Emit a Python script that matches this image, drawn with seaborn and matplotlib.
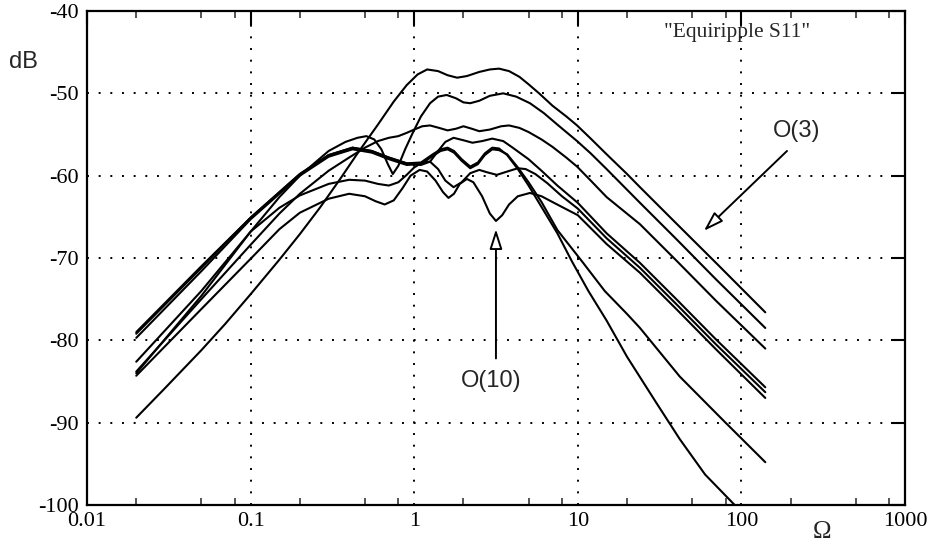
import numpy as np
import pandas as pd
import matplotlib
matplotlib.use("Agg")
import matplotlib.pyplot as plt
import seaborn as sns
from matplotlib.ticker import FixedLocator, FixedFormatter, NullFormatter

# ---- data (frequency Omega, dB) ----
curve_A_x = [0.02, 0.03, 0.05, 0.07, 0.1, 0.15, 0.2, 0.265, 0.35, 0.45, 0.6, 0.75, 0.9, 1.05, 1.2, 1.4, 1.6, 1.83, 2.1, 2.5, 2.9, 3.3, 3.8, 4.4, 5.0, 5.8, 7.0, 8.5, 9.9, 12, 15, 20, 24, 40, 70, 140]
curve_A_y = [-89.4, -85.8, -81.2, -78.0, -74.4, -70.2, -67.1, -63.9, -60.5, -57.3, -53.8, -51.0, -49.0, -47.7, -47.1, -47.3, -47.8, -48.1, -47.9, -47.4, -47.1, -47.0, -47.3, -48.0, -48.9, -50.0, -51.5, -52.8, -53.9, -55.5, -57.4, -59.8, -61.4, -65.8, -70.6, -76.6]

curve_B_x = [0.02, 0.05, 0.1, 0.15, 0.2, 0.3, 0.38, 0.45, 0.51, 0.57, 0.63, 0.69, 0.74, 0.8, 0.88, 0.98, 1.1, 1.25, 1.4, 1.58, 1.8, 2.0, 2.2, 2.5, 2.9, 3.5, 4.2, 5.1, 6.2, 7.5, 9.9, 12, 15, 24, 40, 70, 140]
curve_B_y = [-82.6, -74.0, -66.8, -62.6, -60.0, -57.0, -55.9, -55.4, -55.2, -55.6, -56.8, -58.6, -59.8, -58.8, -56.8, -54.8, -52.8, -51.2, -50.4, -50.2, -50.6, -51.1, -51.2, -50.9, -50.3, -50.0, -50.4, -51.2, -52.4, -53.8, -55.8, -57.3, -59.2, -63.3, -67.7, -72.6, -78.5]

curve_C_x = [0.02, 0.05, 0.1, 0.15, 0.2, 0.3, 0.4, 0.5, 0.6, 0.7, 0.8, 0.9, 1.0, 1.12, 1.25, 1.42, 1.6, 1.8, 2.0, 2.25, 2.5, 2.9, 3.4, 3.8, 4.4, 5.0, 6.0, 7.0, 8.5, 9.9, 12, 15, 24, 40, 70, 140]
curve_C_y = [-83.8, -75.0, -68.4, -64.6, -62.2, -59.4, -57.8, -56.6, -55.8, -55.4, -55.2, -54.8, -54.4, -54.0, -53.9, -54.2, -54.5, -54.3, -54.0, -54.3, -54.6, -54.4, -54.0, -53.9, -54.2, -54.7, -55.6, -56.5, -57.8, -58.9, -60.6, -62.6, -65.9, -70.3, -75.2, -81.0]

curve_D_x = [0.02, 0.05, 0.1, 0.2, 0.3, 0.42, 0.55, 0.7, 0.9, 1.1, 1.25, 1.4, 1.55, 1.74, 2.0, 2.27, 2.6, 3.0, 3.5, 4.0, 5.0, 6.0, 7.5, 10, 15, 24, 40, 70, 140]
curve_D_y = [-79.0, -71.0, -65.1, -59.8, -57.5, -56.6, -57.0, -57.8, -58.5, -58.7, -58.3, -57.0, -55.9, -55.4, -55.7, -56.0, -55.8, -55.5, -55.8, -56.6, -58.0, -59.4, -61.2, -63.3, -67.0, -70.6, -75.0, -79.9, -85.7]

curve_E1_x = [0.02, 0.05, 0.1, 0.2, 0.3, 0.42, 0.55, 0.7, 0.9, 1.1, 1.3, 1.45, 1.6, 1.75, 1.95, 2.2, 2.45, 2.7, 3.0, 3.3, 3.7, 4.3, 5.0, 6.0, 7.5, 9.2, 11.6, 15, 20, 30, 42, 60, 91, 140]
curve_E1_y = [-79.2, -71.2, -65.1, -59.8, -57.5, -56.6, -57.0, -57.8, -58.5, -58.4, -57.4, -56.8, -56.6, -57.0, -58.0, -58.9, -58.4, -57.3, -56.6, -56.7, -57.5, -59.2, -61.2, -63.8, -67.0, -70.4, -74.0, -77.6, -82.0, -87.5, -92.0, -96.3, -100.0, -104.5]

curve_E2_x = [0.02, 0.05, 0.1, 0.2, 0.3, 0.42, 0.55, 0.7, 0.9, 1.1, 1.3, 1.45, 1.6, 1.75, 1.95, 2.2, 2.45, 2.7, 3.0, 3.3, 3.7, 4.3, 5.0, 6.0, 7.5, 10.6, 14.6, 20, 24, 42, 80, 140]
curve_E2_y = [-79.7, -71.6, -65.3, -60.0, -57.7, -56.8, -57.2, -58.0, -58.7, -58.6, -57.6, -57.0, -56.8, -57.2, -58.2, -59.1, -58.6, -57.5, -56.8, -56.9, -57.4, -59.0, -60.8, -63.2, -66.6, -70.4, -74.0, -76.8, -78.5, -84.4, -90.0, -94.8]

curve_F_x = [0.02, 0.05, 0.1, 0.15, 0.2, 0.3, 0.4, 0.5, 0.6, 0.7, 0.8, 0.9, 1.0, 1.12, 1.25, 1.4, 1.55, 1.74, 1.95, 2.2, 2.5, 2.8, 3.2, 3.7, 4.3, 4.8, 5.5, 6.5, 8.0, 10, 15, 24, 40, 70, 140]
curve_F_y = [-84.0, -74.6, -66.8, -63.9, -62.4, -61.0, -60.5, -60.6, -61.0, -61.2, -60.8, -59.9, -59.0, -58.4, -58.3, -59.2, -60.6, -61.4, -60.8, -59.7, -59.3, -59.6, -59.9, -59.5, -59.1, -59.2, -59.8, -60.9, -62.5, -64.0, -67.6, -71.2, -75.6, -80.5, -86.3]

curve_G_x = [0.02, 0.05, 0.1, 0.15, 0.2, 0.3, 0.4, 0.5, 0.58, 0.66, 0.75, 0.85, 0.95, 1.08, 1.2, 1.35, 1.5, 1.62, 1.75, 1.9, 2.1, 2.3, 2.6, 2.9, 3.16, 3.45, 3.8, 4.3, 5.1, 6.0, 7.0, 8.0, 10, 15, 24, 40, 70, 140]
curve_G_y = [-84.3, -76.2, -70.1, -66.5, -64.5, -62.8, -62.2, -62.5, -63.1, -63.5, -63.0, -61.5, -60.0, -59.3, -59.5, -60.6, -62.0, -62.7, -62.2, -61.0, -60.4, -60.8, -62.5, -64.6, -65.5, -64.8, -63.5, -62.5, -62.1, -62.5, -63.2, -63.8, -64.8, -68.3, -71.8, -76.2, -81.1, -87.0]

x_ticks = [0.01, 0.1, 1, 10, 100, 1000]
x_tick_labels = ["0.01", "0.1", "1", "10", "100", "1000"]
y_ticks = [-100, -90, -80, -70, -60, -50, -40]
y_tick_labels = ["-100", "-90", "-80", "-70", "-60", "-50", "-40"]

curves = {
    "A": (curve_A_x, curve_A_y), "B": (curve_B_x, curve_B_y),
    "C": (curve_C_x, curve_C_y), "D": (curve_D_x, curve_D_y),
    "E1": (curve_E1_x, curve_E1_y), "E2": (curve_E2_x, curve_E2_y),
    "F": (curve_F_x, curve_F_y), "G": (curve_G_x, curve_G_y),
}
frames = []
for name, (xs, ys) in curves.items():
    frames.append(pd.DataFrame({"omega": xs, "dB": ys, "curve": name}))
df = pd.concat(frames, ignore_index=True)

sns.set_theme(style="white")
plt.rcParams["font.family"] = ["Liberation Serif", "DejaVu Serif"]

fig = plt.figure(figsize=(9.32, 5.46), dpi=100)
ax = fig.add_axes([87/932, 1-505/546, (905-87)/932, (505-11)/546])

sns.lineplot(data=df, x="omega", y="dB", hue="curve", units="curve", estimator=None,
             palette={k: "black" for k in curves}, legend=False, linewidth=1.5, ax=ax)

ax.set_xscale("log")
ax.set_xlim(0.01, 1000)
ax.set_ylim(-100, -40)
ax.set_xlabel("")
ax.set_ylabel("")

ax.xaxis.set_major_locator(FixedLocator(x_ticks))
ax.xaxis.set_major_formatter(FixedFormatter(x_tick_labels))
minor = [m * 10.0**e for e in range(-2, 3) for m in (2, 5, 8)]
ax.xaxis.set_minor_locator(FixedLocator(minor))
ax.xaxis.set_minor_formatter(NullFormatter())
ax.yaxis.set_major_locator(FixedLocator(y_ticks))
ax.yaxis.set_major_formatter(FixedFormatter(y_tick_labels))

ax.tick_params(axis="both", which="major", direction="in", length=10, width=1.5,
               top=True, right=True, labelsize=16, colors="black")
ax.tick_params(axis="y", which="major", pad=6)
ax.tick_params(axis="x", which="major", pad=5)
ax.tick_params(axis="x", which="minor", direction="in", length=5, width=1.1,
               top=True, bottom=True)

for s in ax.spines.values():
    s.set_color("black")
    s.set_linewidth(1.6)

ax.grid(True, which="major", color="black", linestyle=(0, (1, 5)), linewidth=1.4)

ax.text(94, -42.6, '"Equiripple S11"', ha="center", va="center", fontsize=15.5,
        family=["Liberation Serif"])
ax.text(219, -54.6, "O(3)", ha="center", va="center", fontsize=17,
        family=["Liberation Sans"])
ax.annotate("", xy=(59, -66.7), xytext=(190, -57.0),
            arrowprops=dict(arrowstyle="-|>,head_length=1.0,head_width=0.32",
                            fc="white", ec="black", lw=1.4, shrinkA=0, shrinkB=0))
ax.text(2.94, -85.0, "O(10)", ha="center", va="center", fontsize=17,
        family=["Liberation Sans"])
ax.annotate("", xy=(3.16, -66.5), xytext=(3.16, -82.2),
            arrowprops=dict(arrowstyle="-|>,head_length=1.0,head_width=0.32",
                            fc="white", ec="black", lw=1.4, shrinkA=0, shrinkB=0))

fig.text(23/932, 1-62/546, "dB", ha="center", va="center", fontsize=17,
         family=["Liberation Sans"])
fig.text(822/932, 1-532/546, "Ω", ha="center", va="center", fontsize=18,
         family=["Liberation Serif"])

fig.savefig("out.png", dpi=100)
